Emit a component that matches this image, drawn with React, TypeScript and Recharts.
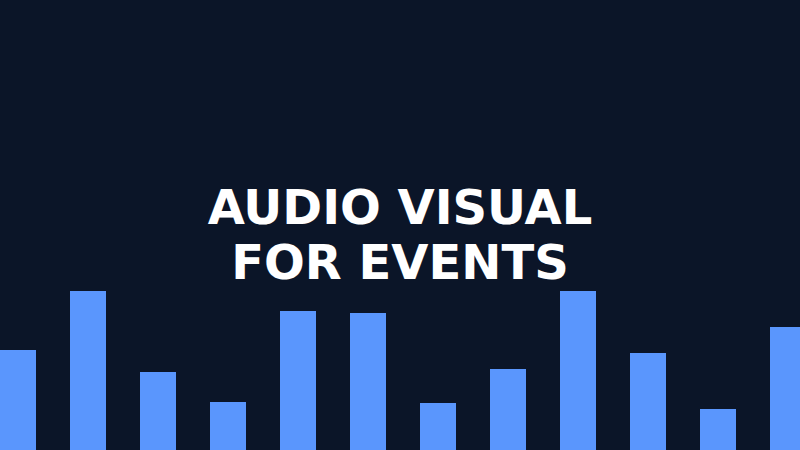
import { BarChart, Bar, XAxis, YAxis } from 'recharts';

const BG = '#0b1528';
const BAR = '#5a96fd';

const bands = ['b1', 'b2', 'b3', 'b4', 'b5', 'b6', 'b7', 'b8', 'b9', 'b10', 'b11', 'b12'];
const levels = [100, 159, 78, 48, 139, 137, 47, 81, 159, 97, 41, 123];
const titleLines = ['AUDIO VISUAL', 'FOR EVENTS'];

const data = bands.map((name, i) => ({ name, level: levels[i] }));

export default function App() {
  return (
    <div
      style={{
        position: 'fixed', top: 0, left: 0, width: 800, height: 450,
        overflow: 'hidden', background: BG,
      }}
    >
      <div style={{ position: 'absolute', left: -17, top: 0 }}>
        <BarChart width={840} height={450} data={data} margin={{ top: 0, right: 0, left: 0, bottom: 0 }}>
          <XAxis dataKey="name" hide />
          <YAxis hide domain={[0, 450]} />
          <Bar dataKey="level" fill={BAR} barSize={36} isAnimationActive={false} />
        </BarChart>
      </div>
      <svg width={800} height={450} style={{ position: 'absolute', left: 0, top: 0 }}>
        {titleLines.map((line, i) => (
          <text
            key={line}
            x={400}
            y={224 + i * 55}
            textAnchor="middle"
            fill="#ffffff"
            fontFamily="DejaVu Sans, sans-serif"
            fontWeight="bold"
            fontSize={48}
          >
            {line}
          </text>
        ))}
      </svg>
    </div>
  );
}
